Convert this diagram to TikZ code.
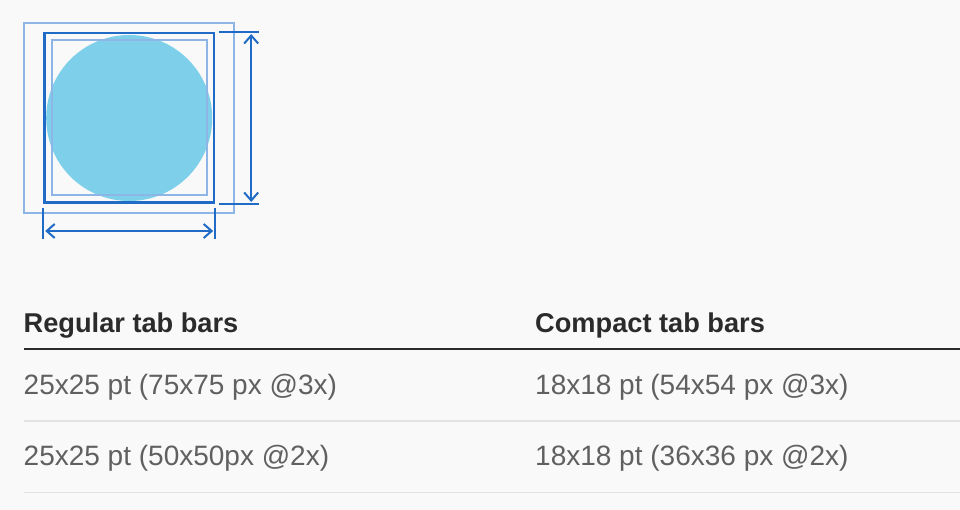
\documentclass[tikz,border=0pt]{standalone}
\usepackage{fontspec}
\setmainfont{Liberation Sans}
\usetikzlibrary{positioning}
\usetikzlibrary{arrows.meta}

\definecolor{pagebg}{HTML}{F9F9F9}
\definecolor{guidedark}{HTML}{1F6BC6}
\definecolor{guidelight}{HTML}{8DB5E6}
\definecolor{glyph}{HTML}{7ECFEA}
\definecolor{headtext}{HTML}{2B2B2B}
\definecolor{celltext}{HTML}{606060}
\definecolor{rulelight}{HTML}{E2E2E2}

\tikzset{
  frame/.style={draw=guidelight, line width=2pt, inner sep=0pt},
  keyframe/.style={draw=guidedark, line width=2.5pt, inner sep=0pt},
  dimline/.style={guidedark, line width=2pt},
  head/.style={anchor=base west, text=headtext, inner sep=0pt, font=\fontsize{27.2}{30}\selectfont\bfseries},
  cell/.style={anchor=base west, text=celltext, inner sep=0pt, font=\fontsize{28}{32}\selectfont},
  headrule/.style={draw=headtext, line width=2.2pt},
  rowrule/.style={draw=rulelight, line width=1.6pt},
}

\begin{document}
\begin{tikzpicture}[x=1pt, y=-1pt, >={Straight Barb[length=8pt, width=14pt]}]
  % page
  \fill[pagebg] (0,0) rectangle (960,510);
  \useasboundingbox (0,0) rectangle (960,510);

  % icon with its guides
  \def\cx{129.2}
  \def\cy{118}
  \node[circle, fill=glyph, minimum size=166pt, inner sep=0pt] (glyph) at (\cx,\cy) {};
  \node[frame, minimum width=209.5pt, minimum height=190.5pt] (outer) at (\cx,\cy) {};
  \node[frame, minimum size=155pt] (inner) at (\cx,\cy) {};
  \node[keyframe, minimum size=169.5pt] (icon) at (\cx,\cy) {};

  % height
  \coordinate[right=4pt of icon.north east] (hta);
  \coordinate[right=44pt of icon.north east] (htb);
  \coordinate[right=4pt of icon.south east] (hba);
  \coordinate[right=44pt of icon.south east] (hbb);
  \coordinate[right=36pt of icon.north east] (htop);
  \coordinate[right=36pt of icon.south east] (hbot);
  \draw[dimline] (hta) -- (htb);
  \draw[dimline] (hba) -- (hbb);
  \draw[dimline, <->, shorten <=2pt, shorten >=2pt] (htop) -- (hbot);

  % width
  \coordinate[below=4pt of icon.south west] (wla);
  \coordinate[below=35pt of icon.south west] (wlb);
  \coordinate[below=4pt of icon.south east] (wra);
  \coordinate[below=35pt of icon.south east] (wrb);
  \coordinate[below=27pt of icon.south west] (wleft);
  \coordinate[below=27pt of icon.south east] (wright);
  \draw[dimline] (wla) -- (wlb);
  \draw[dimline] (wra) -- (wrb);
  \draw[dimline, <->, shorten <=2pt, shorten >=2pt] (wleft) -- (wright);

  % table
  \node[head] (regular) at (23.5,332.3) {Regular tab bars};
  \node[head] (compact) at (535,332.3) {Compact tab bars};

  \coordinate (ruleA) at (24,348.7);  \coordinate (ruleAend) at (960,348.7);
  \coordinate (ruleB) at (24,421);    \coordinate (ruleBend) at (960,421);
  \coordinate (ruleC) at (24,492.3);  \coordinate (ruleCend) at (960,492.3);
  \draw[headrule] (ruleA) -- (ruleAend);
  \draw[rowrule] (ruleB) -- (ruleBend);
  \draw[rowrule] (ruleC) -- (ruleCend);

  \node[cell] (reg3x) at (23.5,394) {25x25 pt (75x75 px @3x)};
  \node[cell] (cmp3x) at (535,394) {18x18 pt (54x54 px @3x)};
  \node[cell] (reg2x) at (23.5,465.7) {25x25 pt (50x50px @2x)};
  \node[cell] (cmp2x) at (535,465.7) {18x18 pt (36x36 px @2x)};
\end{tikzpicture}
\end{document}
